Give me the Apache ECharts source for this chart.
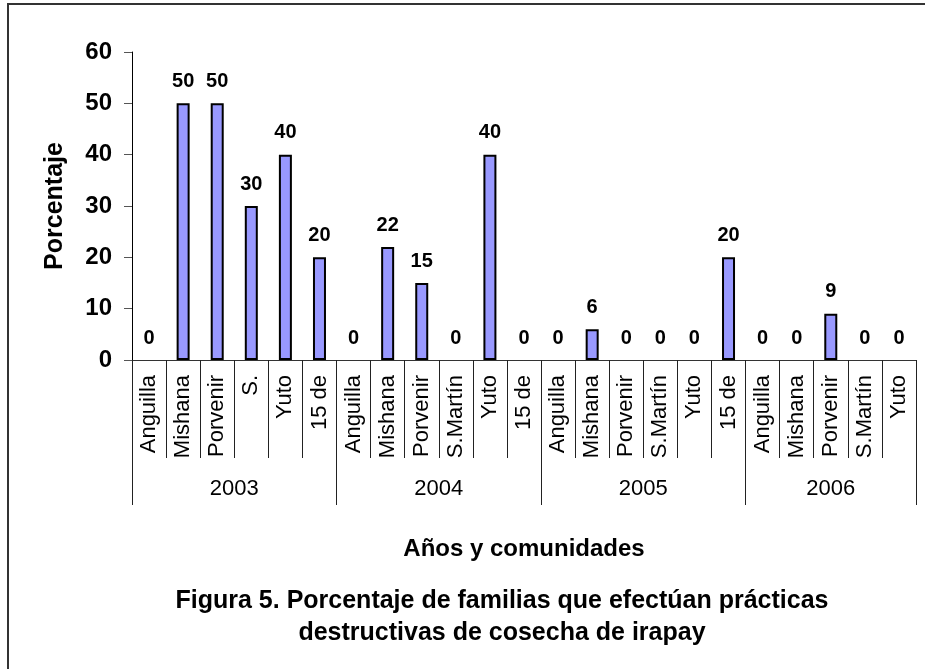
<!DOCTYPE html>
<html>
<head>
<meta charset="utf-8">
<script src="https://cdn.jsdelivr.net/npm/echarts@6/dist/echarts.min.js"></script>
<style>
  html, body { margin: 0; padding: 0; background: #fff; overflow: hidden; }
  #frame { position: absolute; left: 7px; top: 3px; width: 1000px; height: 1000px;
           border-top: 2px solid #333; border-left: 2px solid #333; box-sizing: border-box; }
  #chart { position: absolute; left: 0; top: 0; width: 925px; height: 669px; }
</style>
</head>
<body>
<div id="frame"></div>
<div id="chart"></div>
<script>
// ---- data ----
const years = ['2003', '2004', '2005', '2006'];
const groupSizes = [6, 6, 6, 5];
const communities = [
  'Anguilla', 'Mishana', 'Porvenir', 'S.', 'Yuto', '15 de',
  'Anguilla', 'Mishana', 'Porvenir', 'S.Martín', 'Yuto', '15 de',
  'Anguilla', 'Mishana', 'Porvenir', 'S.Martín', 'Yuto', '15 de',
  'Anguilla', 'Mishana', 'Porvenir', 'S.Martín', 'Yuto'
];
const percentages = [
  0, 50, 50, 30, 40, 20,
  0, 22, 15, 0, 40, 0,
  0, 6, 0, 0, 0, 20,
  0, 0, 9, 0, 0
];
const yTicks = [0, 10, 20, 30, 40, 50, 60];

// group boundaries and centres (in category units)
const groupBounds = [0];
const groupCenters = [];
groupSizes.forEach(function (n) {
  const start = groupBounds[groupBounds.length - 1];
  groupCenters.push(start + n / 2);
  groupBounds.push(start + n);
});

// zero-height bars draw no outline (as in the original)
const barData = percentages.map(function (v) {
  return v === 0 ? { value: v, itemStyle: { borderWidth: 0, color: 'transparent' } } : v;
});

const FONT = '"Liberation Sans", Arial, Helvetica, sans-serif';

const chart = echarts.init(document.getElementById('chart'), null, { renderer: 'canvas' });
chart.setOption({
  backgroundColor: 'transparent',
  animation: false,
  textStyle: { fontFamily: FONT },
  title: {
    text: 'Figura 5. Porcentaje de familias que efectúan prácticas\ndestructivas de cosecha de irapay',
    left: 497,
    top: 580,
    textAlign: 'center',
    textStyle: { fontFamily: FONT, fontSize: 25, fontWeight: 'bold', color: '#000', lineHeight: 32 }
  },
  grid: {
    left: 132, right: 9, top: 52, bottom: 309,
    containLabel: false, outerBoundsMode: 'none'
  },
  xAxis: [
    {
      type: 'category',
      data: communities,
      boundaryGap: true,
      name: 'Años y comunidades',
      nameLocation: 'middle',
      nameGap: 177,
      nameTextStyle: { fontFamily: FONT, fontSize: 24, fontWeight: 'bold', color: '#000' },
      axisLine: { show: true, onZero: false, lineStyle: { color: '#333', width: 1 } },
      axisTick: { show: true, interval: 0, length: 98, lineStyle: { color: '#222', width: 1 } },
      axisLabel: {
        interval: 0, rotate: 90, margin: 15,
        fontFamily: FONT, fontSize: 22, color: '#000'
      },
      splitLine: { show: false }
    },
    {
      type: 'value',
      position: 'bottom',
      min: 0,
      max: groupBounds[groupBounds.length - 1],
      axisLine: { show: false },
      splitLine: { show: false },
      axisTick: {
        show: true, length: 145, customValues: groupBounds,
        lineStyle: { color: '#222', width: 1 }
      },
      axisLabel: {
        show: true, margin: 118, customValues: groupCenters,
        fontFamily: FONT, fontSize: 22, color: '#000',
        formatter: function (v) {
          const i = groupCenters.indexOf(v);
          return i >= 0 ? years[i] : '';
        }
      }
    }
  ],
  yAxis: {
    type: 'value',
    min: yTicks[0],
    max: yTicks[yTicks.length - 1],
    interval: 10,
    name: 'Porcentaje',
    nameLocation: 'middle',
    nameGap: 64,
    nameTextStyle: { fontFamily: FONT, fontSize: 25, fontWeight: 'bold', color: '#000' },
    axisLine: { show: true, lineStyle: { color: '#000', width: 1 } },
    axisTick: { show: true, length: 8, lineStyle: { color: '#555', width: 1 } },
    axisLabel: { margin: 20, fontFamily: FONT, fontSize: 24, fontWeight: 'bold', color: '#000' },
    splitLine: { show: false }
  },
  series: [{
    type: 'bar',
    xAxisIndex: 0,
    yAxisIndex: 0,
    data: barData,
    barWidth: 13,
    itemStyle: { color: '#9999FF', borderColor: '#000', borderWidth: 2 },
    label: {
      show: true, position: 'top', distance: 12,
      fontFamily: FONT, fontSize: 20, fontWeight: 'bold', color: '#000'
    }
  }]
});
</script>
</body>
</html>
